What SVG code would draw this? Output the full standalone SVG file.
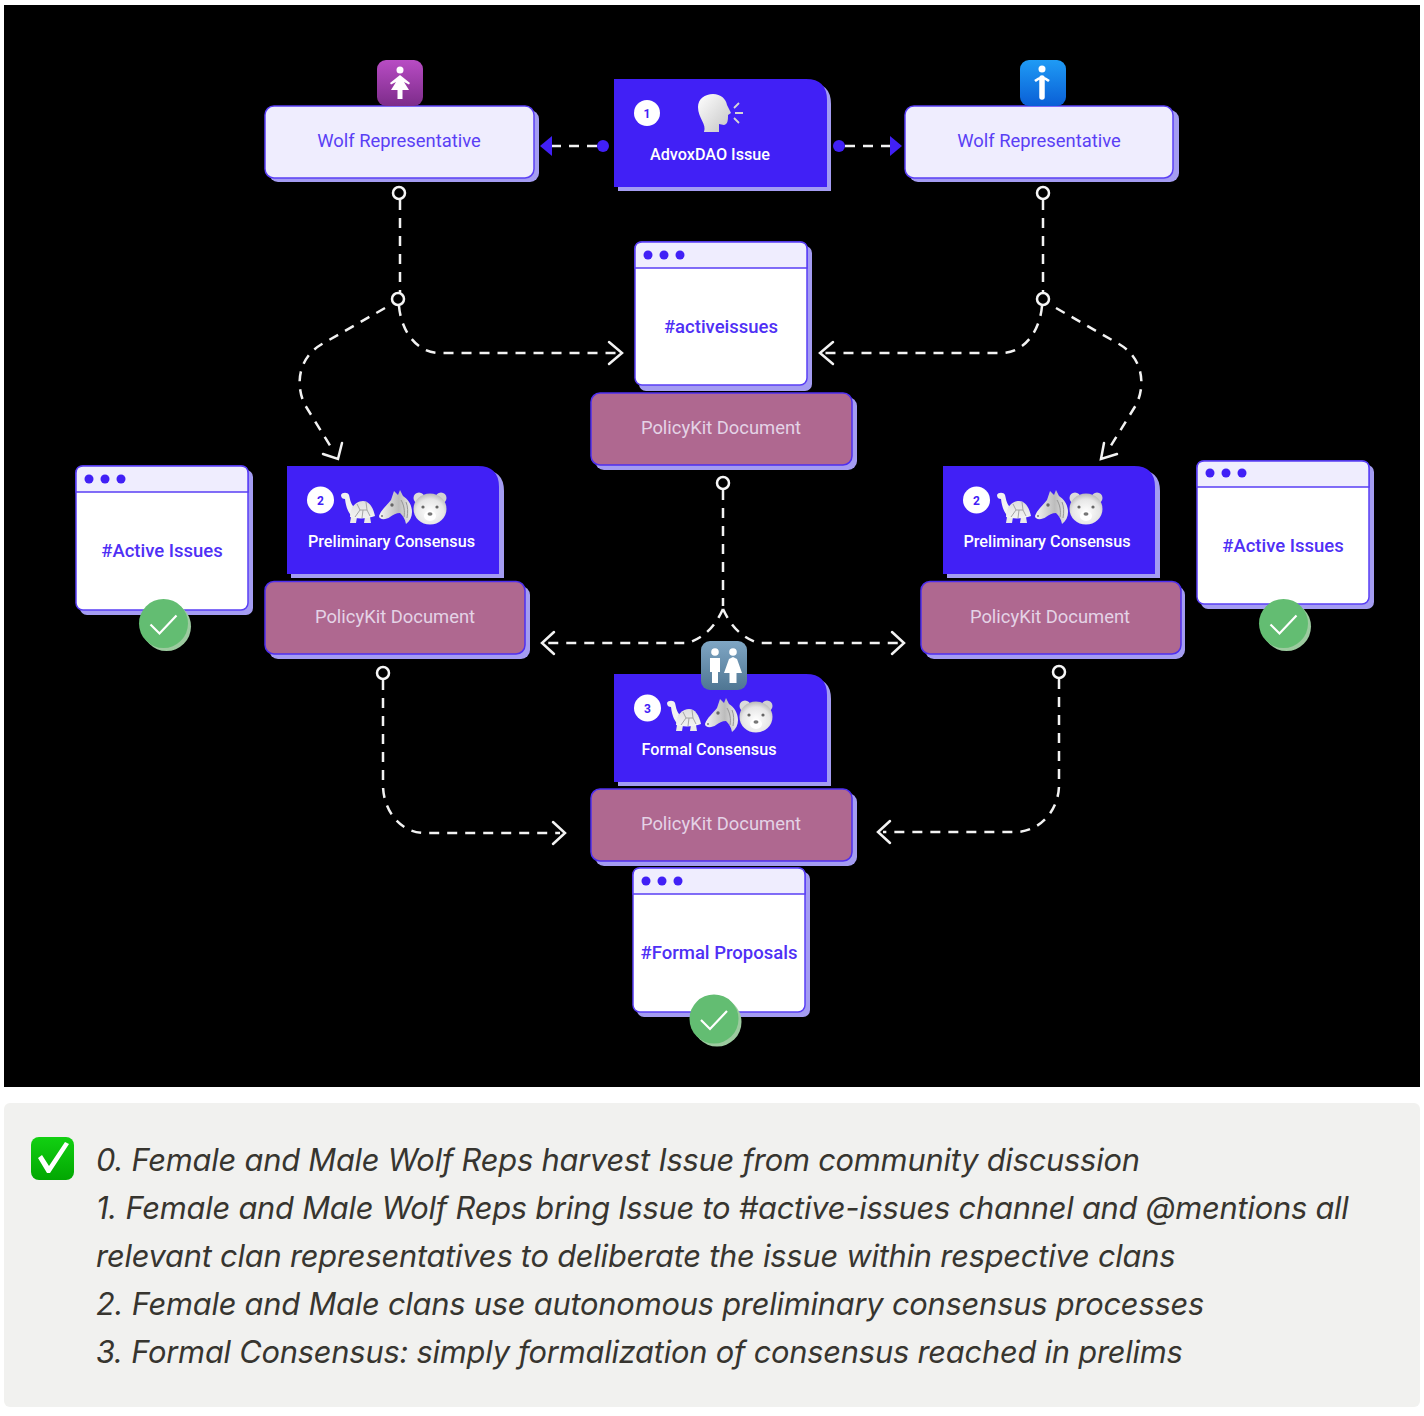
<svg xmlns="http://www.w3.org/2000/svg" xmlns:xlink="http://www.w3.org/1999/xlink" width="1424" height="1416" viewBox="0 0 1424 1416">
<style>
text{font-family:Roboto,"Liberation Sans",sans-serif;text-anchor:middle}
.shadow{fill:#a49cf2}
.blue{fill:#4120f6}
.rep{fill:#efedfe;stroke:#5a3ff5;stroke-width:1.5}
.win{fill:#fff;stroke:#5a3ff5;stroke-width:1.5}
.bar{fill:#efedfe;stroke:#5a3ff5;stroke-width:1.5}
.doc{fill:#af6890;stroke:#4f2ff0;stroke-width:1.5}
.t-rep{font-size:18.4px;fill:#5a3ff5}
.t-doc{font-size:18.4px;fill:#e4d3e6}
.t-card{font-size:16.2px;font-weight:500;fill:#fff}
.t-win{font-size:18.5px;font-weight:500;fill:#4f30f5}
.t-num{font-size:12px;font-weight:700;fill:#4120f6}
.note{font-family:Inter,"Liberation Sans",sans-serif;text-anchor:start;font-style:italic;font-size:30.8px;letter-spacing:-.21px;fill:#37352f}
.dash{fill:none;stroke:#f2f2f2;stroke-width:2.5;stroke-dasharray:10 8}
.chev{fill:none;stroke:#f2f2f2;stroke-width:2.5;stroke-linecap:round;stroke-linejoin:miter}
.ring{fill:none;stroke:#f5f5f5;stroke-width:2.5}
.dot{fill:#4120f6}
.scale{fill:none;stroke:#9d9d9d;stroke-width:.9}
</style>
<defs>
<linearGradient id="gPurple" x1="0" y1="0" x2="0" y2="1"><stop offset="0" stop-color="#b84cc4"/><stop offset="1" stop-color="#7d2c8a"/></linearGradient>
<linearGradient id="gBlue" x1="0" y1="0" x2="0" y2="1"><stop offset="0" stop-color="#1f9bf5"/><stop offset="1" stop-color="#0a5fd6"/></linearGradient>
<linearGradient id="gSlate" x1="0" y1="0" x2="0" y2="1"><stop offset="0" stop-color="#7fa6c4"/><stop offset="1" stop-color="#4f7693"/></linearGradient>
<linearGradient id="gGreen" x1="0" y1="0" x2="0" y2="1"><stop offset="0" stop-color="#12d012"/><stop offset="1" stop-color="#02a702"/></linearGradient>
<linearGradient id="gGrey" x1="0" y1="0" x2="1" y2="1"><stop offset="0" stop-color="#ffffff"/><stop offset="1" stop-color="#b5b5b5"/></linearGradient>
<linearGradient id="gShell" x1="0" y1="0" x2="0" y2="1"><stop offset="0" stop-color="#dedede"/><stop offset="1" stop-color="#f3f3f3"/></linearGradient>
<linearGradient id="gHorse" x1="0" y1="0" x2="1" y2="0"><stop offset="0" stop-color="#f5f5f5"/><stop offset=".6" stop-color="#bcbcbc"/><stop offset="1" stop-color="#ececec"/></linearGradient>
<radialGradient id="gBear" cx=".5" cy=".6" r=".6"><stop offset="0" stop-color="#fff"/><stop offset=".7" stop-color="#e6e6e6"/><stop offset="1" stop-color="#b9b9b9"/></radialGradient>
<linearGradient id="gHead" x1="0" y1="0" x2="1" y2="1"><stop offset="0" stop-color="#ffffff"/><stop offset="1" stop-color="#c4c4c4"/></linearGradient>
<g id="check">
<circle cx="3" cy="3" r="24.500" fill="#9ccb9f"/>
<circle r="24.500" fill="#63bd72"/>
<path d="M-13 1L-4 10L13-8" fill="none" stroke="#fff" stroke-width="2.2"/>
</g>
<g id="trio">
<!-- turtle -->
<path d="M341 495C342 492 348 492 349 495C350 498 350 502 353 506L352 516C349 514 346 508 345 499C343 499 341 498 341 495Z" fill="#f2f2f2"/>
<path d="M351 517L350 523H356L357 517ZM365 517L364 523H371L370 517Z" fill="#eaeaea"/>
<path d="M350 517C350 506 357 501 363 501C369 501 373 507 375 516C368 519 356 519 350 517Z" fill="url(#gShell)"/>
<path class="scale" d="M357 504L360 510L355 517M360 510H367L370 516M367 510L366 502M363 510L362 518"/>
<!-- horse -->
<path d="M379 516C381 510 387 505 391 500L394 491L398 495L400 490L403 496C408 499 412 505 412 512C412 517 410 521 406 524C405 519 403 516 400 513C396 513 393 515 390 517C386 520 379 520 379 516Z" fill="url(#gHorse)"/>
<path d="M401 500C404 505 405 511 404 517M406 502C408 507 408 512 407 518" fill="none" stroke="#8f8f8f" stroke-width=".9"/>
<circle cx="392" cy="505" r="1.700" fill="#666"/>
<circle cx="382" cy="516" r="1" fill="#777"/>
<!-- bear -->
<circle cx="419" cy="498" r="5.500" fill="#dcdcdc"/><circle cx="441" cy="498" r="5.500" fill="#d2d2d2"/>
<ellipse cx="430" cy="509" rx="16.500" ry="15.500" fill="url(#gBear)"/>
<ellipse cx="430" cy="516" rx="6" ry="5" fill="#fff"/>
<ellipse cx="430" cy="514" rx="2.500" ry="1.800" fill="#777"/>
<circle cx="423" cy="507" r="1.600" fill="#666"/><circle cx="437" cy="507" r="1.600" fill="#666"/>
</g>
</defs>

<rect width="1424" height="1416" fill="#fff"/>
<rect x="4" y="5" width="1416" height="1082" fill="#000"/>

<g id="connectors">
<circle class="ring" cx="399" cy="193" r="6"/>
<path class="dash" d="M400 200V293"/>
<circle class="ring" cx="398" cy="299" r="6"/>
<path class="dash" d="M399 306C401 330 416 353 440 353H618"/>
<path class="chev" d="M609 342L622 353L609 364"/>
<path class="dash" d="M385 308L322 344C298 358 295 385 305 405L334 452"/>
<path class="chev" d="M323 454L338 459L342 443"/>
<circle class="ring" cx="1043" cy="193" r="6"/>
<path class="dash" d="M1043 200V293"/>
<circle class="ring" cx="1043" cy="299" r="6"/>
<path class="dash" d="M1042 306C1040 330 1025 353 1001 353H824"/>
<path class="chev" d="M833 342L820 353L833 364"/>
<path class="dash" d="M1056 308L1119 344C1143 358 1146 385 1136 405L1107 452"/>
<path class="chev" d="M1117 454L1101 459L1104 443"/>
<circle class="ring" cx="723" cy="483" r="6"/>
<path class="dash" d="M723 490V606"/>
<path class="dash" d="M723 609C717 622 708 636 688 643H546"/>
<path class="dash" d="M723 609C729 622 738 636 758 643H900"/>
<path class="chev" d="M554 632L542 643L554 654"/>
<path class="chev" d="M892 632L904 643L892 654"/>
<circle class="ring" cx="383" cy="673" r="6"/>
<path class="dash" d="M383 680V785C383 810 400 833 425 833H560"/>
<path class="chev" d="M553 822L565 833L553 844"/>
<circle class="ring" cx="1059" cy="672" r="6"/>
<path class="dash" d="M1059 679V785C1059 810 1040 832 1015 832H883"/>
<path class="chev" d="M890 821L878 832L890 843"/>
<path class="dash" d="M597 146H552"/>
<path class="dash" d="M845 146H890"/>
<circle class="dot" cx="603" cy="146" r="6"/>
<circle class="dot" cx="839" cy="146" r="6"/>
<path class="dot" d="M552 136V156L540 146Z"/>
<path class="dot" d="M890 136V156L902 146Z"/>
</g>

<g id="rep-female">
<rect class="shadow" x="269" y="110" width="270" height="72" rx="9"/>
<rect class="rep" x="265" y="106" width="269" height="72" rx="9"/>
<text class="t-rep" x="399" y="147">Wolf Representative</text>
<rect x="377" y="60" width="46" height="46" rx="9" fill="url(#gPurple)"/>
<circle cx="400" cy="70" r="3.500" fill="#fff"/>
<path d="M400 75L390 83L391 84.500L396 82L391 90H397.500V99H402.500V90H409L404 82L409 84.500L410 83Z" fill="#fff"/>
</g>

<g id="issue">
<path class="shadow" d="M618 83H810Q831 83 831 104V191H618Z"/>
<path class="blue" d="M614 79H806Q827 79 827 100V187H614Z"/>
<circle cx="647" cy="113" r="13" fill="#fff"/>
<text class="t-num" x="647" y="117.500">1</text>
<path d="M698 107C698 99 705 94 713 94C721 94 726 99 727 105L731 113L728 115C728 120 728 124 724 125L719 124V132H704C707 124 698 118 698 107Z" fill="url(#gHead)"/>
<path d="M734 108L739 103M735 113H743M734 118L739 123" fill="none" stroke="#d5d5d5" stroke-width="1.800"/>
<text class="t-card" x="710" y="160">AdvoxDAO Issue</text>
</g>

<g id="rep-male">
<rect class="shadow" x="909" y="110" width="270" height="72" rx="9"/>
<rect class="rep" x="905" y="106" width="268" height="72" rx="9"/>
<text class="t-rep" x="1039" y="147">Wolf Representative</text>
<rect x="1020" y="60" width="46" height="46" rx="9" fill="url(#gBlue)"/>
<circle cx="1042" cy="69" r="3.500" fill="#fff"/>
<path d="M1035 81Q1042 75 1049 81" fill="none" stroke="#fff" stroke-width="2.500"/>
<path d="M1042 78V97" fill="none" stroke="#fff" stroke-width="5.500" stroke-linecap="round"/>
</g>

<g id="channel-activeissues">
<rect class="shadow" x="639" y="246" width="173" height="145" rx="7"/>
<rect class="win" x="635" y="242" width="172" height="143" rx="7"/>
<path class="bar" d="M635 268V249Q635 242 642 242H800Q807 242 807 249V268Z"/>
<circle class="dot" cx="648" cy="255" r="4.500"/><circle class="dot" cx="664" cy="255" r="4.500"/><circle class="dot" cx="680" cy="255" r="4.500"/>
<text class="t-win" x="721" y="333">#activeissues</text>
</g>

<g id="doc-center">
<rect class="shadow" x="595" y="397" width="262" height="73" rx="9"/>
<rect class="doc" x="591" y="393" width="261" height="72" rx="9"/>
<text class="t-doc" x="721" y="434">PolicyKit Document</text>
</g>

<g id="channel-active-left">
<rect class="shadow" x="80" y="470" width="173" height="145" rx="7"/>
<rect class="win" x="76" y="466" width="172" height="144" rx="7"/>
<path class="bar" d="M76 492V473Q76 466 83 466H241Q248 466 248 473V492Z"/>
<circle class="dot" cx="89" cy="479" r="4.500"/><circle class="dot" cx="105" cy="479" r="4.500"/><circle class="dot" cx="121" cy="479" r="4.500"/>
<text class="t-win" x="162" y="557">#Active Issues</text>
<use xlink:href="#check" href="#check" x="163.500" y="623.500"/>
</g>

<g id="prelim-left">
<path class="shadow" d="M291 470H483Q504 470 504 491V578H291Z"/>
<path class="blue" d="M287 466H478Q499 466 499 487V574H287Z"/>
<circle cx="320.500" cy="500" r="13.500" fill="#fff"/>
<text class="t-num" x="320.500" y="504.500">2</text>
<use xlink:href="#trio" href="#trio"/>
<text class="t-card" x="391.500" y="547">Preliminary Consensus</text>
</g>

<g id="doc-left">
<rect class="shadow" x="269" y="586" width="261" height="73" rx="9"/>
<rect class="doc" x="265" y="581.500" width="260" height="72.500" rx="9"/>
<text class="t-doc" x="395" y="623">PolicyKit Document</text>
</g>

<g id="prelim-right">
<path class="shadow" d="M947 470H1139Q1160 470 1160 491V578H947Z"/>
<path class="blue" d="M943 466H1134Q1155 466 1155 487V574H943Z"/>
<circle cx="976.500" cy="500" r="13.500" fill="#fff"/>
<text class="t-num" x="976.500" y="504.500">2</text>
<use xlink:href="#trio" href="#trio" x="656"/>
<text class="t-card" x="1047" y="547">Preliminary Consensus</text>
</g>

<g id="doc-right">
<rect class="shadow" x="925" y="586" width="260" height="73" rx="9"/>
<rect class="doc" x="921" y="581.500" width="260" height="72.500" rx="9"/>
<text class="t-doc" x="1050" y="623">PolicyKit Document</text>
</g>

<g id="channel-active-right">
<rect class="shadow" x="1201" y="465" width="173" height="144" rx="7"/>
<rect class="win" x="1197" y="461" width="172" height="143" rx="7"/>
<path class="bar" d="M1197 487V468Q1197 461 1204 461H1362Q1369 461 1369 468V487Z"/>
<circle class="dot" cx="1210" cy="473" r="4.500"/><circle class="dot" cx="1226" cy="473" r="4.500"/><circle class="dot" cx="1242" cy="473" r="4.500"/>
<text class="t-win" x="1283" y="552">#Active Issues</text>
<use xlink:href="#check" href="#check" x="1283.500" y="623.500"/>
</g>

<g id="formal">
<path class="shadow" d="M618 678H810Q831 678 831 699V786H618Z"/>
<path class="blue" d="M614 674H806Q827 674 827 695V782H614Z"/>
<circle cx="647.500" cy="708" r="13.500" fill="#fff"/>
<text class="t-num" x="647.500" y="712.500">3</text>
<use xlink:href="#trio" href="#trio" x="326" y="208"/>
<text class="t-card" x="709" y="755">Formal Consensus</text>
<rect x="701" y="641" width="46" height="49" rx="9" fill="url(#gSlate)"/>
<circle cx="715" cy="652" r="3.800" fill="#fff"/><circle cx="733" cy="652" r="3.800" fill="#fff"/>
<path d="M710 658H720V672H718V683H712V672H710Z" fill="#fff"/>
<path d="M733 657L737 659L742 673H736.500V683H729.500V673H724L729 659Z" fill="#fff"/>
</g>

<g id="doc-formal">
<rect class="shadow" x="595" y="793" width="262" height="73" rx="9"/>
<rect class="doc" x="591" y="789" width="261" height="72" rx="9"/>
<text class="t-doc" x="721" y="830">PolicyKit Document</text>
</g>

<g id="channel-formal">
<rect class="shadow" x="637" y="872" width="173" height="145" rx="7"/>
<rect class="win" x="633" y="868" width="172" height="144" rx="7"/>
<path class="bar" d="M633 894V875Q633 868 640 868H798Q805 868 805 875V894Z"/>
<circle class="dot" cx="646" cy="881" r="4.500"/><circle class="dot" cx="662" cy="881" r="4.500"/><circle class="dot" cx="678" cy="881" r="4.500"/>
<text class="t-win" x="719" y="959">#Formal Proposals</text>
<use xlink:href="#check" href="#check" x="714" y="1019"/>
</g>

<g id="notes">
<rect x="4" y="1103" width="1416" height="304" rx="6" fill="#f1f1ef"/>
<rect x="31" y="1137" width="43" height="43" rx="8" fill="url(#gGreen)"/>
<path d="M38 1158L42 1155L49 1166L65 1142L69 1144L50 1173H47Z" fill="#fff"/>
<text class="note" x="96" y="1171">0. Female and Male Wolf Reps harvest Issue from community discussion</text>
<text class="note" x="96" y="1219">1. Female and Male Wolf Reps bring Issue to #active-issues channel and @mentions all</text>
<text class="note" x="96" y="1267">relevant clan representatives to deliberate the issue within respective clans</text>
<text class="note" x="96" y="1315">2. Female and Male clans use autonomous preliminary consensus processes</text>
<text class="note" x="96" y="1363">3. Formal Consensus: simply formalization of consensus reached in prelims</text>
</g>
</svg>
